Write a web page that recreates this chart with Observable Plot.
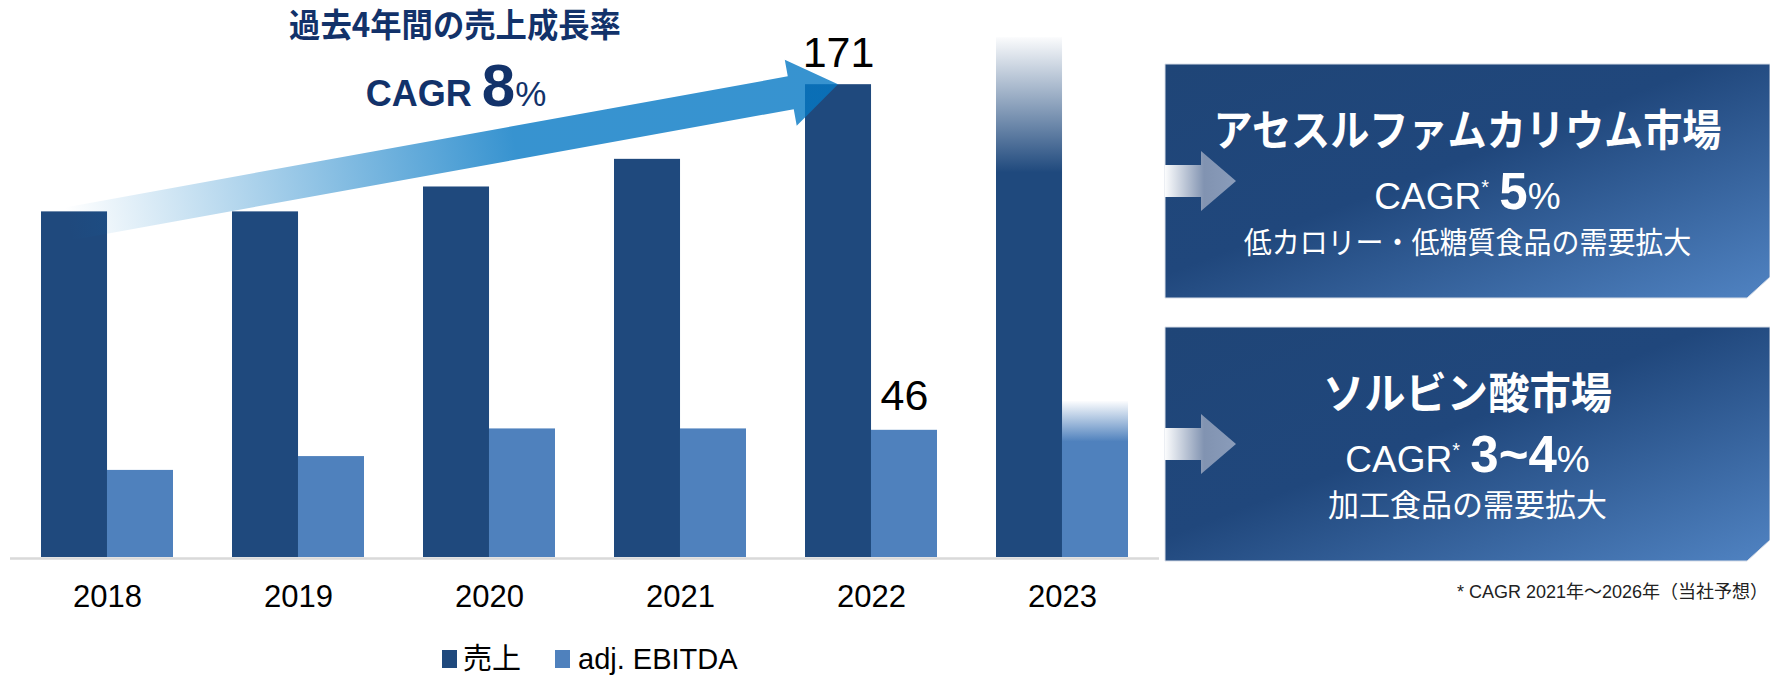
<!DOCTYPE html>
<html><head><meta charset="utf-8">
<script src="https://cdn.jsdelivr.net/npm/d3@7"></script>
<script src="https://cdn.jsdelivr.net/npm/@observablehq/plot@0.6"></script>
<style>
body{margin:0;background:#fff;}
#root{position:relative;width:1770px;height:678px;overflow:hidden;font-family:'Liberation Sans',Arial,'Noto Sans CJK JP',sans-serif;}
#chart{position:absolute;left:0;top:0;}
#overlay{position:absolute;left:0;top:0;pointer-events:none;}
#legend{position:absolute;left:442px;top:641px;display:flex;align-items:center;font-size:29px;line-height:34px;color:#000;height:36px;white-space:nowrap;}
.sw{width:15px;height:18px;display:inline-block;margin-right:6px;}
</style></head>
<body><div id="root"><div id="chart"></div><svg id="overlay" width="1770" height="678"></svg><div id="legend"></div></div>
<script>
// ---------- data ----------
const years = ["2018", "2019", "2020", "2021", "2022", "2023"];
const seriesNames = ["売上", "adj. EBITDA"];
const sales = [125, 125, 134, 144, 171, 188];
const ebitda = [31.5, 36.5, 46.5, 46.5, 46, 56.4];
const forecastYear = "2023";
const labelYear = "2022";
const arrowFrom = {year: "2018", value: 120.5};
const arrowTo = {year: "2022", value: 171};
const headline = "過去4年間の売上成長率";
const headlineCagr = "8";
const markets = ["アセスルファムカリウム市場", "ソルビン酸市場"];
const marketCagr = ["5", "3~4"];
const marketDrivers = ["低カロリー・低糖質食品の需要拡大", "加工食品の需要拡大"];
const footnote = "* CAGR 2021年～2026年（当社予想）";

// ---------- styles / layout ----------
const colors = ["#1f497d", "#4f81bd"];
const W = 1160, H = 620, mL = 10, mR = 1, mT = 4, mB = 63;
const pInner = 0.311, pOuter = 0.1555;
const step = (W - mL - mR) / (years.length - pInner + 2 * pOuter);
const band = step * (1 - pInner);
const half = band / 2;

const rows = years.flatMap((yr, i) => [
  {year: yr, series: seriesNames[0], value: sales[i]},
  {year: yr, series: seriesNames[1], value: ebitda[i]}
]);
const actual = rows.filter(d => d.year !== forecastYear);
const forecast = rows.filter(d => d.year === forecastYear);
const labels = rows.filter(d => d.year === labelYear);

function arrowMark(index, scales) {
  const x = scales.x, y = scales.y;
  const T = [x(arrowFrom.year) + half / 2 - 6, y(arrowFrom.value)];
  const P = [x(arrowTo.year) + half / 2, y(arrowTo.value)];
  const dx = P[0] - T[0], dy = P[1] - T[1], L = Math.hypot(dx, dy);
  const u = [dx / L, dy / L], n = [-u[1], u[0]];
  const sh = 16.7, hh = 33.5, hl = 48;
  const B = [P[0] - u[0] * hl, P[1] - u[1] * hl];
  const pt = (p, k) => [p[0] + n[0] * k, p[1] + n[1] * k];
  const pts = [pt(T, -sh), pt(B, -sh), pt(B, -hh), P, pt(B, hh), pt(B, sh), pt(T, sh)];
  const ns = "http://www.w3.org/2000/svg";
  const g = document.createElementNS(ns, "g");
  const defs = document.createElementNS(ns, "defs");
  defs.innerHTML = `<linearGradient id="gArrow" gradientUnits="userSpaceOnUse" x1="${T[0]}" y1="${T[1]}" x2="${P[0]}" y2="${P[1]}">
    <stop offset="0" stop-color="#0578c4" stop-opacity="0"/>
    <stop offset="0.58" stop-color="#0578c4" stop-opacity="0.8"/>
    <stop offset="1" stop-color="#0578c4" stop-opacity="0.8"/></linearGradient>`;
  g.appendChild(defs);
  const path = document.createElementNS(ns, "path");
  path.setAttribute("d", "M" + pts.map(p => p.join(",")).join("L") + "Z");
  path.setAttribute("fill", "url(#gArrow)");
  g.appendChild(path);
  return g;
}

function gradDefs() {
  const ns = "http://www.w3.org/2000/svg";
  const defs = document.createElementNS(ns, "defs");
  defs.innerHTML = colors.map((c, i) => `<linearGradient id="gFc${i}" x1="0" y1="0" x2="0" y2="1">
    <stop offset="0" stop-color="${c}" stop-opacity="0.02"/>
    <stop offset="0.26" stop-color="${c}" stop-opacity="1"/>
    <stop offset="1" stop-color="${c}" stop-opacity="1"/></linearGradient>`).join("");
  return defs;
}

const chart = Plot.plot({
  width: W, height: H, marginLeft: mL, marginRight: mR, marginTop: mT, marginBottom: mB,
  style: {fontSize: "31px", fontFamily: "'Liberation Sans', Arial, 'Noto Sans CJK JP', sans-serif", color: "#000", background: "transparent", overflow: "visible"},
  x: {domain: years, paddingInner: pInner, paddingOuter: pOuter, tickSize: 0, tickPadding: 27, label: null},
  y: {domain: [0, 200], axis: null},
  marks: [
    gradDefs,
    Plot.ruleY([0], {stroke: "#d9d9d9", strokeWidth: 2.5, dy: 1}),
    Plot.barY(actual.filter(d => d.series === seriesNames[0]), {x: "year", y: "value", fill: colors[0], insetRight: half}),
    Plot.barY(actual.filter(d => d.series === seriesNames[1]), {x: "year", y: "value", fill: colors[1], insetLeft: half}),
    Plot.barY(forecast.filter(d => d.series === seriesNames[0]), {x: "year", y: "value", fill: "url(#gFc0)", insetRight: half}),
    Plot.barY(forecast.filter(d => d.series === seriesNames[1]), {x: "year", y: "value", fill: "url(#gFc1)", insetLeft: half}),
    arrowMark,
    Plot.text(labels.filter(d => d.series === seriesNames[0]), {x: "year", y: "value", text: d => String(d.value), fontSize: 43, lineAnchor: "bottom", dy: -18, dx: -half / 2, fill: "#000"}),
    Plot.text(labels.filter(d => d.series === seriesNames[1]), {x: "year", y: "value", text: d => String(d.value), fontSize: 43, lineAnchor: "bottom", dy: -20, dx: half / 2, fill: "#000"})
  ]
});
document.getElementById("chart").appendChild(chart);

// ---------- legend ----------
const legend = d3.select("#legend");
seriesNames.forEach((s, i) => {
  const item = legend.append("div").style("display", "flex").style("align-items", "center").style("margin-right", i === 0 ? "34px" : "0");
  item.append("span").attr("class", "sw").style("background", colors[i]);
  item.append("span").text(s).style("margin-left", i === 1 ? "2px" : "0");
});

// ---------- overlay: headline, panels, footnote ----------
const svg = d3.select("#overlay");
const defs = svg.append("defs");
const pg = defs.append("linearGradient").attr("id", "gPanel").attr("x1", 0).attr("y1", 0).attr("x2", 1).attr("y2", 1);
pg.append("stop").attr("offset", 0).attr("stop-color", "#1f4577");
pg.append("stop").attr("offset", 0.45).attr("stop-color", "#20477c");
pg.append("stop").attr("offset", 1).attr("stop-color", "#5083c2");
const ag = defs.append("linearGradient").attr("id", "gSide").attr("x1", 0).attr("y1", 0).attr("x2", 1).attr("y2", 0);
ag.append("stop").attr("offset", 0).attr("stop-color", "#fbfcfd");
ag.append("stop").attr("offset", 0.55).attr("stop-color", "#8193b1");
ag.append("stop").attr("offset", 1).attr("stop-color", "#8a9cba");

const navy = "#12326a";
const lat = "'Liberation Sans', Arial, sans-serif";
const cjk = "'Noto Sans CJK JP', sans-serif";

svg.append("text").attr("transform", "translate(455,37) scale(0.95,1)").attr("text-anchor", "middle")
  .attr("font-family", cjk).attr("font-weight", 700).attr("font-size", 33).attr("fill", navy).text(headline);
const hc = svg.append("text").attr("x", 456).attr("y", 106).attr("text-anchor", "middle").attr("fill", navy).attr("font-family", lat);
hc.append("tspan").attr("font-weight", 700).attr("font-size", 36).text("CAGR ");
hc.append("tspan").attr("font-weight", 700).attr("font-size", 60).text(headlineCagr);
hc.append("tspan").attr("font-size", 35).text("%");

const px0 = 1165, px1 = 1770, ph = 234, cx = (px0 + px1) / 2;
const tops = [64, 327];
const titleScale = [0.91, 0.96];
const subStyle = [{fs: 30, sc: 0.933}, {fs: 31, sc: 1}];
markets.forEach((m, i) => {
  const t = tops[i], b = t + ph;
  svg.append("path").attr("d", `M${px0},${t}L${px1},${t}L${px1},${b - 21}L${px1 - 23},${b}L${px0},${b}Z`)
    .attr("fill", "url(#gPanel)").attr("stroke", "#d8dee8").attr("stroke-width", 1);
  const ay = t + 117;
  svg.append("path").attr("d", `M${px0},${ay - 16}L${px0 + 36},${ay - 16}L${px0 + 36},${ay - 30}L${px0 + 71},${ay}L${px0 + 36},${ay + 30}L${px0 + 36},${ay + 16}L${px0},${ay + 16}Z`)
    .attr("fill", "url(#gSide)");
  svg.append("text").attr("transform", `translate(${cx},${t + 82}) scale(${titleScale[i]},1)`).attr("text-anchor", "middle")
    .attr("font-family", cjk).attr("font-weight", 700).attr("font-size", 43).attr("fill", "#fff").text(m);
  const c = svg.append("text").attr("x", cx).attr("y", t + 145).attr("text-anchor", "middle").attr("fill", "#fff").attr("font-family", lat);
  c.append("tspan").attr("font-size", 37).text("CAGR");
  c.append("tspan").attr("font-size", 20).attr("dy", -15).text("*");
  c.append("tspan").attr("font-size", 37).attr("dy", 15).text(" ");
  c.append("tspan").attr("font-size", 51).attr("font-weight", 700).text(marketCagr[i]);
  c.append("tspan").attr("font-size", 37).text("%");
  svg.append("text").attr("transform", `translate(${cx},${t + 189}) scale(${subStyle[i].sc},1)`).attr("text-anchor", "middle")
    .attr("font-family", cjk).attr("font-size", subStyle[i].fs).attr("fill", "#fff").text(marketDrivers[i]);
});
svg.append("text").attr("x", 1768).attr("y", 598).attr("text-anchor", "end").attr("font-family", "'Liberation Sans', Arial, 'Noto Sans CJK JP', sans-serif")
  .attr("font-size", 18).attr("fill", "#222").text(footnote);
</script></body></html>
